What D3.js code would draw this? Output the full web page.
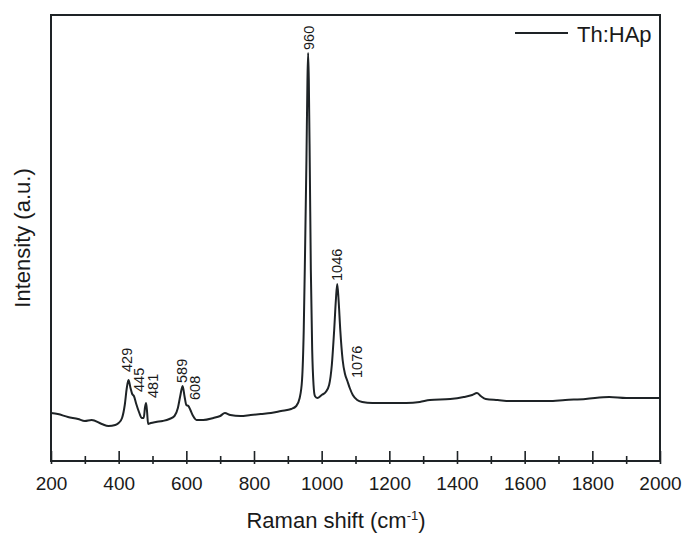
<!DOCTYPE html>
<html><head><meta charset="utf-8">
<script src="https://cdn.jsdelivr.net/npm/d3@7"></script>
<style>body{margin:0;background:#fff}svg{display:block}text{font-family:"Liberation Sans",Arial,sans-serif;fill:#1a1a1a}</style>
</head><body>
<svg id="c" width="682" height="534"></svg>
<script>
const shift = [200,220,250,280,300,320,350,370,390,400,410,418,424,429,435,440,445,452,460,468,474,478,481,484,487,495,510,530,550,565,575,582,589,595,600,606,612,620,630,650,680,700,714,730,760,790,820,850,880,910,925,935,942,947,951,955,958,960,962,965,968,972,976,980,987,1000,1012,1022,1030,1037,1042,1046,1050,1055,1062,1069,1076,1083,1092,1105,1120,1150,1200,1250,1290,1320,1380,1420,1445,1459,1470,1485,1520,1560,1620,1670,1720,1780,1850,1900,1950,2000];
const intensity = [48,47,44,42,40,41,37,35,36,38,43,56,73,81,73,67,65,57,49,43,43,54,58,49,37,38,39,40,42,45,53,65,75,64,56,55,51,45,41,41,43,45,48,46,45,46,47,48,50,52,55,63,81,131,211,301,381,408,381,291,191,111,76,65,63,66,69,76,96,131,161,177,161,131,101,87,80,73,66,61,59,58,58,58,59,61,62,64,66,68,65,62,61,60,60,60,61,62,64,63,63,63];
const peakLabels = ["429","445","481","589","608","960","1046","1076"];
const peakLabelShift = [425,460,501,587,626,962,1045,1104];
const peakLabelBase = [89,69,63,78,61,411,180,83];
const xTicks = [200,400,600,800,1000,1200,1400,1600,1800,2000];
const xMinor = [300,500,700,900,1100,1300,1500,1700,1900];
const seriesName = "Th:HAp";

const svg = d3.select("#c");
const L=51,R=660,T=15,B=461;
const x = d3.scaleLinear().domain([200,2000]).range([L,R]);
const y = d3.scaleLinear().domain([0,446]).range([B,T]);
const ink="#1e2326";

const data = shift.map((s,i)=>[s,intensity[i]]);
svg.append("path").datum(data)
  .attr("fill","none").attr("stroke",ink).attr("stroke-width",2).attr("stroke-linejoin","round")
  .attr("d",d3.line().x(d=>x(d[0])).y(d=>y(d[1])).curve(d3.curveMonotoneX));

// frame
svg.append("rect").attr("x",L).attr("y",T).attr("width",R-L).attr("height",B-T)
  .attr("fill","none").attr("stroke",ink).attr("stroke-width",2);

// x axis
const ax = svg.append("g").attr("transform",`translate(0,${B})`)
  .call(d3.axisBottom(x).tickValues(xTicks).tickSizeInner(-10).tickSizeOuter(0).tickPadding(16).tickFormat(d3.format("d")));
ax.select(".domain").remove();
ax.selectAll(".tick line").attr("stroke",ink).attr("stroke-width",1.6).attr("y1",3);
ax.selectAll(".tick text").attr("font-size",19).attr("fill","#1a1a1a").attr("font-family","Liberation Sans, Arial, sans-serif");
const axm = svg.append("g").attr("transform",`translate(0,${B})`)
  .call(d3.axisBottom(x).tickValues(xMinor).tickSizeInner(-5).tickSizeOuter(0).tickFormat(""));
axm.select(".domain").remove();
axm.selectAll(".tick line").attr("stroke",ink).attr("stroke-width",1.6).attr("y1",3);

// peak labels
peakLabels.forEach((t,i)=>{
  const px=x(peakLabelShift[i])+5, py=y(peakLabelBase[i]);
  svg.append("text").attr("transform",`translate(${px},${py}) rotate(-90)`)
    .attr("font-size",14.5).text(t);
});

// axis titles
const xt = svg.append("text").attr("x",336).attr("y",528).attr("text-anchor","middle").attr("font-size",22);
xt.append("tspan").text("Raman shift (cm");
xt.append("tspan").attr("dy",-8).attr("font-size",13).text("-1");
xt.append("tspan").attr("dy",8).text(")");
svg.append("text").attr("transform",`translate(30,238) rotate(-90)`).attr("text-anchor","middle").attr("font-size",22).text("Intensity (a.u.)");

// legend
svg.append("line").attr("x1",515).attr("x2",568).attr("y1",33).attr("y2",33).attr("stroke",ink).attr("stroke-width",2);
svg.append("text").attr("x",577).attr("y",42).attr("font-size",22).text(seriesName);
</script>
</body></html>
